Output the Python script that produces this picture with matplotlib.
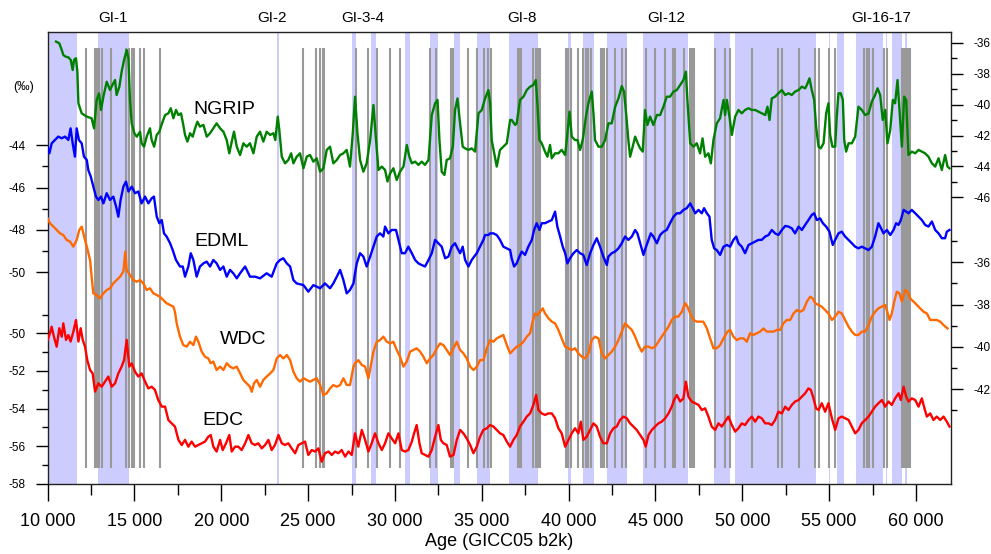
import matplotlib
matplotlib.use("Agg")
import matplotlib.pyplot as plt

plt.rcParams['font.family'] = ['Liberation Sans', 'DejaVu Sans']
plt.rcParams['axes.unicode_minus'] = False

# ---------------- data ----------------
ngrip_age = [10480, 10670, 10810, 10900, 11040, 11190, 11330, 11440, 11520, 11630, 11710, 11770, 11960, 12250, 12530, 12670,
             12820, 12960, 13070, 13210, 13400, 13590, 13730, 13880, 13970, 14130, 14260, 14400, 14550, 14650, 14740, 14840,
             14990, 15130, 15320, 15410, 15550, 15700, 15890, 15990, 16130, 16280, 16430, 16620, 16760, 16950, 17090, 17240,
             17390, 17530, 17680, 17810, 17910, 18050, 18200, 18350, 18490, 18620, 18770, 18970, 19160, 19350, 19540, 19730,
             19930, 20120, 20310, 20460, 20600, 20730, 20890, 21080, 21270, 21460, 21650, 21850, 22040, 22230, 22420, 22610,
             22810, 23000, 23110, 23250, 23340, 23480, 23670, 23860, 24020, 24150, 24340, 24530, 24730, 24920, 25110, 25300,
             25490, 25690, 25880, 26070, 26260, 26450, 26650, 26840, 27030, 27220, 27410, 27570, 27700, 27840, 27990, 28180,
             28370, 28570, 28760, 28910, 29050, 29240, 29430, 29570, 29720, 29910, 30100, 30290, 30490, 30680, 30830, 30970,
             31160, 31350, 31540, 31730, 31930, 32120, 32310, 32450, 32560, 32690, 32850, 32980, 33170, 33330, 33460, 33600,
             33750, 33900, 34040, 34230, 34420, 34610, 34810, 35000, 35190, 35380, 35480, 35570, 35860, 36050, 36240, 36440,
             36630, 36720, 36920, 37010, 37200, 37400, 37590, 37780, 37970, 38110, 38200, 38320, 38450, 38640, 38780, 38930,
             39030, 39220, 39410, 39600, 39800, 39930, 40050, 40180, 40370, 40510, 40660, 40810, 41010, 41140, 41330, 41430,
             41520, 41720, 41910, 42100, 42290, 42480, 42680, 42870, 43060, 43190, 43310, 43440, 43540, 43690, 43830, 43980,
             44120, 44270, 44400, 44540, 44690, 44880, 45080, 45270, 45460, 45650, 45840, 46040, 46230, 46420, 46610, 46750,
             46840, 47000, 47190, 47380, 47570, 47710, 47860, 48050, 48190, 48340, 48530, 48720, 48920, 49010, 49110, 49260,
             49400, 49590, 49780, 49970, 50160, 50360, 50550, 50740, 50930, 51120, 51320, 51450, 51570, 51700, 51890, 52080,
             52280, 52470, 52660, 52850, 53040, 53240, 53430, 53620, 53720, 53870, 54000, 54140, 54250, 54390, 54520, 54680,
             54830, 54960, 55060, 55190, 55350, 55440, 55540, 55670, 55790, 55870, 55980, 56120, 56310, 56500, 56690, 56880,
             57080, 57270, 57460, 57650, 57790, 57940, 58090, 58230, 58360, 58520, 58670, 58800, 58940, 59050, 59190, 59320,
             59440, 59570, 59760, 59960, 60150, 60340, 60530, 60720, 60920, 61110, 61300, 61490, 61680, 61820, 61930]
ngrip_d18o = [-35.91, -36.02, -36.45, -36.78, -36.89, -36.93, -37.10, -37.75, -37.10, -36.99, -37.86, -39.91, -40.56, -40.77, -40.88, -41.53,
              -39.69, -39.26, -40.34, -39.48, -38.51, -39.05, -38.72, -38.40, -39.37, -38.83, -37.86, -37.10, -36.45, -36.99, -39.69, -41.21,
              -41.85, -42.07, -41.75, -42.50, -42.72, -42.07, -41.53, -42.29, -42.72, -41.96, -41.75, -41.10, -40.67, -40.56, -40.23, -40.88,
              -40.34, -40.67, -40.56, -41.31, -41.96, -42.39, -41.85, -42.07, -41.53, -41.10, -41.42, -41.31, -42.07, -41.85, -41.53, -41.21,
              -41.53, -41.75, -42.29, -43.15, -42.39, -41.75, -42.72, -43.26, -42.50, -42.72, -42.50, -43.15, -42.07, -41.75, -42.39, -41.75,
              -41.96, -41.85, -42.29, -40.77, -41.64, -43.37, -43.80, -43.58, -43.15, -43.80, -43.37, -43.15, -44.12, -43.37, -43.26, -43.69,
              -43.47, -44.34, -44.12, -42.93, -42.72, -43.80, -43.58, -43.26, -43.15, -42.93, -44.01, -41.85, -39.48, -41.85, -43.58, -44.34,
              -43.80, -42.29, -40.02, -42.29, -44.23, -44.01, -44.23, -44.98, -44.45, -44.12, -44.88, -44.34, -44.01, -42.61, -43.37, -43.80,
              -43.69, -43.90, -43.69, -43.90, -43.58, -40.67, -39.91, -39.69, -42.29, -44.34, -44.55, -43.58, -43.47, -42.72, -40.34, -39.59,
              -41.21, -42.72, -42.83, -42.93, -42.83, -43.04, -40.56, -40.34, -39.59, -39.05, -39.91, -42.29, -44.01, -42.93, -42.72, -42.50,
              -40.99, -40.99, -41.31, -41.21, -39.69, -39.48, -39.05, -38.83, -38.72, -38.40, -39.91, -42.29, -42.50, -43.04, -43.37, -42.61,
              -43.47, -43.15, -43.15, -42.93, -43.26, -41.85, -40.45, -42.07, -42.29, -42.29, -42.93, -42.29, -40.67, -39.91, -39.15, -40.56,
              -42.29, -42.72, -42.72, -42.29, -41.21, -41.21, -40.13, -39.59, -38.79, -39.15, -40.56, -42.29, -43.37, -42.72, -42.07, -42.50,
              -42.83, -43.04, -40.34, -41.31, -40.77, -41.31, -40.67, -40.67, -40.13, -39.48, -39.48, -39.15, -39.05, -38.72, -38.40, -37.86,
              -39.69, -42.50, -42.72, -42.50, -43.15, -42.18, -43.37, -43.15, -43.80, -42.29, -41.21, -40.88, -39.69, -40.67, -39.69, -40.77,
              -41.96, -40.77, -40.34, -40.56, -40.34, -40.23, -40.34, -40.34, -40.45, -40.56, -40.67, -40.13, -40.99, -39.59, -39.48, -39.26,
              -39.05, -39.37, -39.26, -39.37, -39.15, -39.05, -38.83, -38.94, -38.72, -38.29, -39.05, -39.69, -41.42, -42.72, -42.83, -42.50,
              -40.56, -39.91, -41.96, -42.72, -42.72, -40.77, -39.26, -39.26, -39.69, -42.29, -43.04, -42.50, -42.50, -42.07, -40.13, -40.34,
              -40.67, -40.56, -39.80, -39.37, -38.94, -39.37, -40.99, -40.34, -42.50, -41.64, -39.69, -39.91, -38.40, -40.34, -42.72, -39.48,
              -39.69, -43.26, -43.04, -43.15, -42.93, -43.04, -43.15, -43.37, -43.80, -44.01, -43.47, -44.23, -43.26, -44.01, -44.12]

edml_age = [10000, 10100, 10230, 10420, 10610, 10810, 11000, 11190, 11320, 11440, 11570, 11670, 11800, 11960, 12090, 12250,
            12340, 12480, 12630, 12780, 12920, 13070, 13210, 13400, 13590, 13780, 13940, 14070, 14200, 14360, 14510, 14650,
            14840, 15030, 15220, 15410, 15610, 15800, 15990, 16120, 16280, 16430, 16570, 16700, 16850, 17050, 17200, 17390,
            17620, 17780, 17910, 18100, 18240, 18390, 18580, 18770, 18970, 19160, 19350, 19540, 19730, 19930, 20120, 20310,
            20500, 20690, 20890, 21080, 21370, 21650, 21940, 22230, 22610, 22900, 23190, 23380, 23570, 23770, 23960, 24150,
            24340, 24730, 25010, 25300, 25690, 25970, 26260, 26450, 26650, 26840, 27030, 27220, 27410, 27610, 27700, 27800,
            27990, 28180, 28370, 28570, 28760, 28950, 29140, 29330, 29430, 29620, 29810, 30060, 30200, 30390, 30580, 30770,
            30970, 31160, 31350, 31540, 31730, 31930, 32120, 32310, 32500, 32690, 32890, 33080, 33270, 33460, 33600, 33750,
            33900, 34040, 34230, 34420, 34560, 34710, 34900, 35090, 35190, 35380, 35480, 35670, 35860, 36050, 36240, 36440,
            36630, 36720, 36860, 37010, 37165, 37300, 37490, 37680, 37880, 38010, 38160, 38320, 38450, 38640, 38840, 39030,
            39220, 39350, 39510, 39660, 39800, 39930, 40080, 40280, 40470, 40660, 40850, 41040, 41240, 41430, 41620, 41810,
            42000, 42200, 42290, 42480, 42680, 42870, 43060, 43250, 43440, 43640, 43830, 43960, 44120, 44310, 44460, 44600,
            44730, 44880, 45080, 45270, 45460, 45650, 45840, 46040, 46230, 46420, 46610, 46800, 47000, 47150, 47290, 47480,
            47670, 47800, 47960, 48110, 48240, 48380, 48530, 48720, 48920, 49110, 49300, 49490, 49650, 49780, 49970, 50160,
            50360, 50550, 50740, 50930, 51120, 51320, 51510, 51700, 51890, 52080, 52280, 52470, 52660, 52850, 53040, 53240,
            53430, 53620, 53810, 54000, 54140, 54290, 54480, 54640, 54830, 55020, 55210, 55350, 55540, 55730, 55920, 56120,
            56310, 56500, 56690, 56880, 57080, 57270, 57460, 57650, 57840, 58040, 58130, 58330, 58520, 58710, 58860, 59000,
            59130, 59290, 59440, 59570, 59760, 59960, 60150, 60340, 60530, 60720, 60920, 61110, 61300, 61490, 61680, 61780,
            61930]
edml_d18o = [-44.06, -44.38, -43.91, -43.75, -43.59, -43.67, -43.59, -43.75, -43.20, -43.91, -44.54, -43.20, -43.75, -43.91, -44.54, -44.69,
             -45.17, -45.48, -45.96, -46.43, -46.59, -46.43, -46.75, -46.27, -46.59, -46.43, -46.90, -47.38, -46.59, -45.96, -45.72, -46.19,
             -45.96, -46.27, -46.19, -46.75, -46.43, -46.75, -46.51, -46.43, -47.38, -47.69, -47.54, -48.17, -48.32, -48.64, -48.96, -49.43,
             -49.74, -49.74, -50.22, -49.74, -49.11, -49.43, -50.22, -49.74, -49.59, -49.51, -49.74, -49.43, -49.59, -49.90, -49.74, -50.22,
             -49.90, -50.06, -50.30, -50.06, -49.74, -50.22, -50.22, -50.30, -50.06, -50.22, -49.59, -49.43, -49.35, -49.59, -49.74, -50.38,
             -50.54, -50.62, -50.93, -50.62, -50.77, -50.54, -50.77, -50.54, -50.22, -49.90, -50.38, -51.01, -50.85, -50.54, -50.06, -49.59,
             -49.11, -49.27, -49.74, -49.27, -48.80, -48.32, -48.17, -48.32, -47.85, -48.17, -48.01, -48.01, -48.48, -49.11, -49.11, -48.80,
             -49.11, -49.43, -49.59, -49.67, -49.74, -49.43, -49.11, -48.48, -48.64, -48.80, -49.35, -49.27, -48.80, -48.64, -48.88, -49.11,
             -48.80, -49.43, -49.74, -49.43, -49.27, -49.11, -48.80, -48.48, -48.25, -48.25, -48.17, -48.17, -48.25, -48.48, -48.80, -48.88,
             -48.96, -49.35, -49.74, -49.59, -49.27, -49.03, -49.19, -48.80, -48.48, -48.01, -47.69, -48.01, -47.69, -47.69, -47.61, -47.54,
             -47.14, -47.85, -48.32, -48.80, -49.11, -49.59, -49.35, -49.11, -48.96, -49.11, -49.19, -49.67, -49.11, -48.72, -48.40, -48.80,
             -49.27, -49.67, -49.27, -49.11, -49.03, -48.88, -48.64, -48.32, -48.48, -48.32, -48.01, -48.17, -48.64, -49.19, -48.80, -48.48,
             -48.17, -48.32, -48.64, -48.25, -48.09, -48.01, -47.69, -47.38, -47.22, -47.22, -47.06, -46.98, -46.75, -46.98, -47.22, -47.06,
             -47.22, -46.98, -47.22, -47.38, -48.48, -48.88, -48.96, -49.19, -48.80, -48.72, -48.80, -48.48, -48.32, -48.64, -48.80, -49.11,
             -48.72, -48.64, -48.56, -48.48, -48.48, -48.32, -48.25, -48.01, -48.17, -48.25, -48.01, -47.82, -47.85, -47.93, -48.17, -47.85,
             -48.01, -47.77, -47.54, -47.30, -47.22, -47.54, -47.46, -47.69, -47.85, -48.09, -48.72, -48.48, -48.17, -48.09, -48.32, -48.48,
             -48.64, -48.80, -48.88, -48.80, -48.88, -48.96, -48.80, -48.32, -47.69, -48.01, -48.17, -48.01, -48.25, -48.01, -47.69, -47.77,
             -47.54, -47.06, -47.14, -47.22, -47.06, -47.22, -47.38, -47.54, -47.77, -47.85, -47.61, -48.01, -48.17, -48.40, -48.40, -48.09,
             -48.01]

wdc_age = [10000, 10130, 10330, 10520, 10710, 10900, 11090, 11290, 11480, 11670, 11820, 11960, 12150, 12280, 12440, 12550,
           12630, 12820, 13010, 13210, 13400, 13590, 13780, 13970, 14170, 14360, 14470, 14550, 14740, 14930, 15130, 15320,
           15510, 15700, 15890, 16090, 16280, 16470, 16660, 16850, 17050, 17240, 17330, 17430, 17620, 17810, 18010, 18200,
           18390, 18540, 18680, 18870, 19060, 19250, 19390, 19540, 19730, 19930, 20120, 20310, 20500, 20690, 20890, 21080,
           21270, 21460, 21650, 21750, 21880, 22040, 22230, 22420, 22610, 22810, 23000, 23190, 23380, 23570, 23770, 23960,
           24150, 24340, 24530, 24730, 24920, 25110, 25300, 25490, 25690, 25880, 26070, 26260, 26450, 26650, 26840, 27030,
           27220, 27410, 27610, 27700, 27890, 28090, 28280, 28470, 28600, 28760, 28950, 29140, 29330, 29530, 29720, 29910,
           30100, 30290, 30490, 30680, 30870, 31060, 31250, 31450, 31640, 31830, 32020, 32210, 32410, 32600, 32790, 32980,
           33170, 33370, 33560, 33750, 33940, 34130, 34330, 34520, 34710, 34900, 35090, 35290, 35480, 35670, 35860, 36050,
           36240, 36440, 36630, 36820, 37010, 37200, 37400, 37590, 37780, 37930, 38070, 38200, 38360, 38510, 38640, 38840,
           39030, 39220, 39410, 39600, 39800, 39990, 40180, 40370, 40560, 40760, 40950, 41140, 41330, 41520, 41720, 41910,
           42100, 42290, 42480, 42680, 42870, 43060, 43250, 43440, 43640, 43830, 44020, 44210, 44400, 44600, 44790, 44980,
           45170, 45360, 45560, 45750, 45940, 46130, 46320, 46520, 46710, 46840, 47000, 47190, 47380, 47570, 47760, 47960,
           48150, 48340, 48530, 48720, 48920, 49150, 49300, 49490, 49680, 49880, 50070, 50260, 50450, 50640, 50840, 51030,
           51220, 51410, 51600, 51800, 51990, 52180, 52370, 52560, 52760, 52950, 53140, 53330, 53520, 53720, 53910, 54060,
           54200, 54390, 54580, 54770, 54960, 55160, 55350, 55540, 55730, 55920, 56120, 56310, 56500, 56690, 56880, 57080,
           57270, 57460, 57650, 57840, 58040, 58230, 58320, 58480, 58610, 58750, 58900, 59050, 59190, 59380, 59510, 59670,
           59860, 60050, 60240, 60440, 60630, 60820, 61010, 61200, 61400, 61590, 61820]
wdc_d18o = [-33.92, -34.15, -34.31, -34.47, -34.63, -34.71, -34.94, -35.02, -35.26, -34.94, -34.47, -34.31, -34.94, -35.34, -35.89, -36.84,
            -37.47, -37.55, -37.71, -37.47, -37.31, -37.23, -37.00, -36.84, -36.68, -36.44, -35.50, -36.36, -36.60, -36.84, -36.92, -36.84,
            -37.00, -37.31, -37.23, -37.47, -37.55, -37.63, -37.79, -37.94, -38.02, -38.10, -38.34, -38.89, -39.52, -39.92, -39.99, -39.76,
            -39.92, -39.52, -39.76, -40.23, -40.47, -40.55, -40.78, -40.70, -41.10, -40.94, -41.10, -40.78, -40.94, -41.02, -40.94, -41.26,
            -41.57, -41.73, -41.89, -42.13, -41.73, -41.57, -41.89, -41.57, -41.41, -41.26, -41.10, -40.55, -40.39, -40.55, -40.39, -40.63,
            -41.18, -41.49, -41.65, -41.49, -41.57, -41.65, -41.57, -41.49, -41.81, -42.28, -42.20, -41.97, -41.81, -41.89, -41.81, -41.49,
            -41.81, -41.81, -40.94, -40.78, -40.63, -40.86, -40.94, -41.49, -40.94, -40.23, -39.76, -39.68, -39.52, -39.76, -39.84, -39.76,
            -40.15, -40.47, -40.94, -40.70, -40.23, -40.15, -40.07, -40.23, -40.47, -40.78, -40.55, -40.39, -40.07, -39.84, -39.92, -40.15,
            -40.39, -40.07, -39.76, -40.15, -40.31, -40.55, -40.94, -41.10, -40.94, -40.63, -40.63, -40.07, -39.68, -39.76, -39.60, -39.52,
            -39.44, -39.92, -40.31, -40.15, -39.99, -39.92, -39.76, -39.52, -39.36, -38.81, -38.42, -38.50, -38.34, -38.18, -38.42, -38.65,
            -38.81, -38.89, -39.20, -39.60, -39.99, -40.07, -40.15, -40.07, -40.31, -40.47, -40.55, -40.31, -39.68, -39.52, -39.60, -40.31,
            -40.55, -40.39, -40.23, -39.99, -39.68, -39.28, -38.89, -39.05, -39.20, -39.52, -39.92, -40.23, -39.99, -39.99, -40.07, -39.99,
            -39.76, -39.52, -39.28, -39.05, -38.73, -38.57, -38.57, -38.34, -37.94, -38.10, -38.42, -38.73, -38.81, -38.81, -38.81, -39.13,
            -39.60, -40.07, -40.07, -39.92, -39.60, -39.28, -39.20, -39.52, -39.68, -39.60, -39.60, -39.76, -39.36, -39.44, -39.36, -39.28,
            -39.13, -39.28, -39.28, -39.28, -39.20, -39.20, -38.89, -38.73, -38.73, -38.42, -38.26, -38.34, -38.26, -37.86, -37.63, -37.71,
            -37.94, -38.02, -38.10, -38.26, -38.42, -38.73, -38.57, -38.34, -38.42, -38.73, -39.05, -39.28, -39.44, -39.44, -39.28, -39.28,
            -38.97, -38.57, -38.34, -38.18, -38.10, -38.02, -38.26, -38.73, -38.42, -37.86, -37.39, -37.47, -37.86, -37.31, -37.39, -37.71,
            -37.86, -38.02, -38.18, -38.34, -38.42, -38.73, -38.73, -38.73, -38.81, -38.97, -39.13]

edc_age = [10000, 10130, 10230, 10360, 10520, 10670, 10810, 10900, 11060, 11190, 11320, 11480, 11630, 11770, 11900, 12020,
           12150, 12280, 12440, 12590, 12730, 12920, 13110, 13300, 13490, 13690, 13880, 14070, 14260, 14400, 14550, 14700,
           14840, 15030, 15220, 15410, 15610, 15800, 15990, 16180, 16370, 16570, 16760, 16950, 17140, 17330, 17530, 17720,
           17910, 18100, 18290, 18490, 18680, 18870, 19060, 19250, 19390, 19540, 19730, 19930, 20080, 20270, 20460, 20600,
           20790, 20980, 21170, 21370, 21560, 21750, 21940, 22130, 22330, 22520, 22710, 22900, 23090, 23290, 23480, 23670,
           23860, 24050, 24250, 24440, 24630, 24820, 25010, 25210, 25400, 25590, 25780, 25970, 26170, 26360, 26550, 26740,
           26930, 27130, 27320, 27510, 27700, 27890, 28090, 28280, 28470, 28660, 28850, 29050, 29240, 29430, 29620, 29810,
           30010, 30200, 30390, 30580, 30770, 30970, 31100, 31250, 31410, 31540, 31730, 31930, 32120, 32310, 32500, 32640,
           32790, 32980, 33170, 33370, 33560, 33750, 33940, 34130, 34330, 34520, 34710, 34900, 35090, 35290, 35480, 35670,
           35860, 36050, 36240, 36440, 36630, 36820, 37010, 37200, 37400, 37590, 37780, 37970, 38130, 38260, 38450, 38640,
           38840, 39030, 39220, 39410, 39600, 39800, 39990, 40180, 40370, 40560, 40700, 40850, 41040, 41240, 41430, 41620,
           41810, 42000, 42200, 42390, 42580, 42770, 42960, 43160, 43350, 43540, 43730, 43920, 44120, 44310, 44440, 44600,
           44790, 44980, 45170, 45360, 45560, 45750, 45940, 46070, 46230, 46420, 46610, 46750, 46900, 47090, 47280, 47480,
           47670, 47860, 48050, 48240, 48440, 48630, 48820, 49010, 49200, 49400, 49590, 49780, 49970, 50160, 50360, 50550,
           50740, 50930, 51120, 51320, 51510, 51700, 51890, 52080, 52280, 52470, 52660, 52850, 53040, 53240, 53430, 53620,
           53810, 53950, 54100, 54250, 54390, 54580, 54770, 54960, 55160, 55350, 55540, 55730, 55920, 56120, 56310, 56500,
           56690, 56880, 57080, 57270, 57460, 57650, 57840, 58040, 58230, 58420, 58610, 58800, 59000, 59130, 59290, 59440,
           59570, 59760, 59960, 60150, 60340, 60490, 60630, 60820, 61010, 61200, 61400, 61590, 61780, 61930]
edc_dD = [-50.35, -50.00, -49.65, -50.18, -50.71, -49.73, -50.18, -49.47, -50.35, -50.09, -50.44, -49.91, -49.29, -50.44, -49.73, -50.35,
          -50.71, -51.42, -51.95, -52.13, -53.10, -52.66, -52.84, -52.57, -52.30, -52.84, -52.66, -52.13, -51.77, -51.42, -50.35, -51.77,
          -51.60, -52.04, -52.30, -52.13, -52.57, -52.93, -52.84, -53.01, -53.55, -53.90, -53.90, -54.61, -54.79, -54.96, -55.67, -55.94,
          -55.67, -56.03, -55.76, -56.03, -55.94, -55.85, -55.76, -55.50, -55.41, -56.03, -56.29, -55.67, -56.21, -55.85, -55.41, -56.29,
          -56.03, -56.03, -56.21, -55.85, -55.41, -55.85, -55.94, -55.85, -56.12, -55.94, -55.67, -56.21, -55.94, -55.41, -55.85, -55.94,
          -55.85, -56.12, -56.38, -55.94, -55.85, -55.76, -56.47, -56.21, -56.29, -56.12, -56.83, -56.38, -56.29, -56.47, -56.29, -56.38,
          -56.21, -56.56, -56.29, -56.47, -55.32, -56.03, -55.14, -55.67, -56.29, -55.85, -55.32, -55.85, -56.21, -55.85, -55.32, -55.59,
          -55.85, -55.32, -56.21, -56.29, -56.21, -55.76, -55.32, -54.88, -55.85, -56.38, -56.47, -56.56, -56.21, -55.50, -54.88, -55.67,
          -55.85, -55.94, -56.56, -56.47, -55.67, -55.14, -55.32, -55.59, -55.94, -56.38, -56.03, -55.50, -55.14, -55.05, -54.88, -54.96,
          -55.14, -55.32, -55.41, -55.76, -56.03, -55.67, -55.41, -54.96, -54.70, -54.43, -54.26, -53.81, -53.28, -54.08, -54.26, -54.34,
          -54.26, -54.26, -54.52, -55.05, -55.32, -56.03, -55.67, -55.32, -55.05, -55.32, -54.70, -55.67, -55.50, -55.14, -54.79, -54.96,
          -55.50, -55.85, -55.85, -55.32, -55.05, -54.96, -54.61, -54.43, -54.52, -54.79, -54.96, -55.14, -55.41, -55.67, -56.03, -55.41,
          -55.14, -54.96, -54.79, -54.70, -54.52, -54.26, -53.90, -53.55, -53.28, -53.63, -53.46, -52.57, -53.37, -53.63, -53.72, -53.81,
          -54.08, -53.99, -54.43, -54.96, -55.14, -54.79, -54.96, -54.70, -54.43, -54.88, -55.23, -55.05, -54.79, -54.88, -54.61, -54.43,
          -54.70, -54.43, -54.52, -54.79, -54.79, -54.88, -54.61, -54.17, -54.26, -53.90, -54.08, -53.81, -53.63, -53.55, -53.37, -53.19,
          -52.93, -53.01, -53.46, -53.99, -54.08, -53.72, -54.17, -53.72, -54.52, -55.14, -54.52, -54.43, -54.52, -54.61, -54.96, -55.32,
          -55.14, -54.79, -54.61, -54.43, -54.17, -53.90, -53.72, -53.55, -53.90, -53.63, -53.81, -53.46, -53.19, -53.55, -52.84, -53.37,
          -53.63, -53.46, -53.55, -53.90, -53.46, -53.99, -54.43, -54.26, -54.61, -54.43, -54.61, -54.43, -54.70, -54.96]

# Greenland interstadials (shaded) and event markers (grey lines), ages b2k
gi_start = [9000, 12900, 23190, 27550, 28600, 30580, 32000, 33400, 34750, 36590, 39950, 40800, 42220, 44290,
            48370, 49600, 54980, 55460, 56570, 58250, 58630, 59360]
gi_end = [11700, 14690, 23340, 27760, 28890, 30850, 32500, 33740, 35480, 38230, 40140, 41470, 43360, 46860,
          49310, 54250, 55060, 55840, 58110, 58360, 59170, 59470]
event_ages = [12180, 12740, 12860, 12970, 13130, 13620, 14500, 14710, 14870, 15000, 15290, 15560, 16480,
              24680, 25470, 25710, 25840, 25930,
              27760, 28460, 28940, 29720, 30290, 32040, 32370, 33230, 33330, 34210, 34730, 35130, 35360, 35510,
              37070, 37160, 37260, 37970, 38110, 38220, 38360,
              39850, 39970, 40160, 40560, 40800, 40980, 41120, 41280,
              41870, 41970, 42060, 42200, 42690, 43080, 43310,
              44460, 45000, 45540, 45990, 46100, 46670, 46970, 47080, 47220,
              48440, 49030, 49290, 50550, 52040, 52310, 53240, 54170, 54390, 55000, 55350,
              57030, 57180, 57310, 57500, 58180, 58340, 59170, 59310, 59420, 59550, 59670]

gi_labels = ["GI-1", "GI-2", "GI-3-4", "GI-8", "GI-12", "GI-16-17"]
gi_label_age = [13760, 22940, 28140, 37340, 45610, 57980]

x_major = [10000, 15000, 20000, 25000, 30000, 35000, 40000, 45000, 50000, 55000, 60000]
x_minor = [12500, 17500, 22500, 27500, 32500, 37500, 42500, 47500, 52500, 57500]

# ---------------- figure ----------------
fig = plt.figure(figsize=(9.91, 5.54), dpi=100)
rect = [0.0481, 0.1269, 0.9112, 0.8153]
ax = fig.add_axes(rect)
ax.set_xlim(10000, 62000)
ax.set_ylim(0, 1)
ax.set_yticks([])
for s in ax.spines.values():
    s.set_linewidth(1.0)
    s.set_color('#222222')

for a, b in zip(gi_start, gi_end):
    ax.axvspan(a, b, color='#ccccff', lw=0, zorder=0)
ax.vlines(event_ages, 0.035, 0.9646, colors='#999999', lw=1.5, zorder=1)

ax.set_xticks(x_major)
ax.set_xticklabels([f"{v:,}".replace(",", " ") for v in x_major])
ax.set_xticks(x_minor, minor=True)
ax.tick_params(axis='x', which='major', length=12, width=1, pad=9, labelsize=13)
ax.tick_params(axis='x', which='minor', length=8, width=1)
ax.set_xlabel('Age (GICC05 b2k)', fontsize=13, labelpad=2)

for lab, x in zip(gi_labels, gi_label_age):
    ax.text(x, 1.032, lab, transform=ax.get_xaxis_transform(), ha='center', va='center', fontsize=11)


def series_axis(ylim, side, majors, minors):
    t = ax.twinx()
    t.set_ylim(*ylim)
    for s in t.spines.values():
        s.set_visible(False)
    if side == 'left':
        t.yaxis.tick_left()
    else:
        t.yaxis.tick_right()
    t.set_yticks(majors)
    t.set_yticklabels([f"{v:d}" for v in majors])
    t.set_yticks(minors, minor=True)
    t.tick_params(axis='y', which='major', length=8.6, width=1, pad=7.5, labelsize=8.5)
    t.tick_params(axis='y', which='minor', length=4.5, width=1)
    return t


a_ngrip = series_axis((-64.56, -35.29), 'right', [-36, -38, -40, -42, -44, -46], [-37, -39, -41, -43, -45])
a_edml = series_axis((-60.02, -38.64), 'left', [-44, -46, -48, -50], [-45, -47, -49])
a_wdc = series_axis((-46.48, -25.10), 'right', [-36, -38, -40, -42], [-35, -37, -39, -41, -43])
a_edc = series_axis((-58.0, -33.97), 'left', [-50, -52, -54, -56, -58], [-49, -51, -53, -55, -57])

a_ngrip.plot(ngrip_age, ngrip_d18o, color='#008000', lw=1.7)
a_edml.plot(edml_age, edml_d18o, color='#0000ff', lw=1.7)
a_wdc.plot(wdc_age, wdc_d18o, color='#ff6a00', lw=1.7)
a_edc.plot(edc_age, edc_dD, color='#ff0000', lw=1.7)
for t in (a_ngrip, a_edml, a_wdc, a_edc):
    t.set_xlim(10000, 62000)

ax.text(20155, 0.828, 'NGRIP', transform=ax.get_xaxis_transform(), ha='center', va='center', fontsize=14, zorder=5)
ax.text(20020, 0.537, 'EDML', transform=ax.get_xaxis_transform(), ha='center', va='center', fontsize=14, zorder=5)
ax.text(21230, 0.3197, 'WDC', transform=ax.get_xaxis_transform(), ha='center', va='center', fontsize=14, zorder=5)
ax.text(20080, 0.141, 'EDC', transform=ax.get_xaxis_transform(), ha='center', va='center', fontsize=14, zorder=5)
fig.text(0.0242, 0.8424, '(‰)', ha='center', va='center', fontsize=9)

fig.savefig('out.png', dpi=100)
